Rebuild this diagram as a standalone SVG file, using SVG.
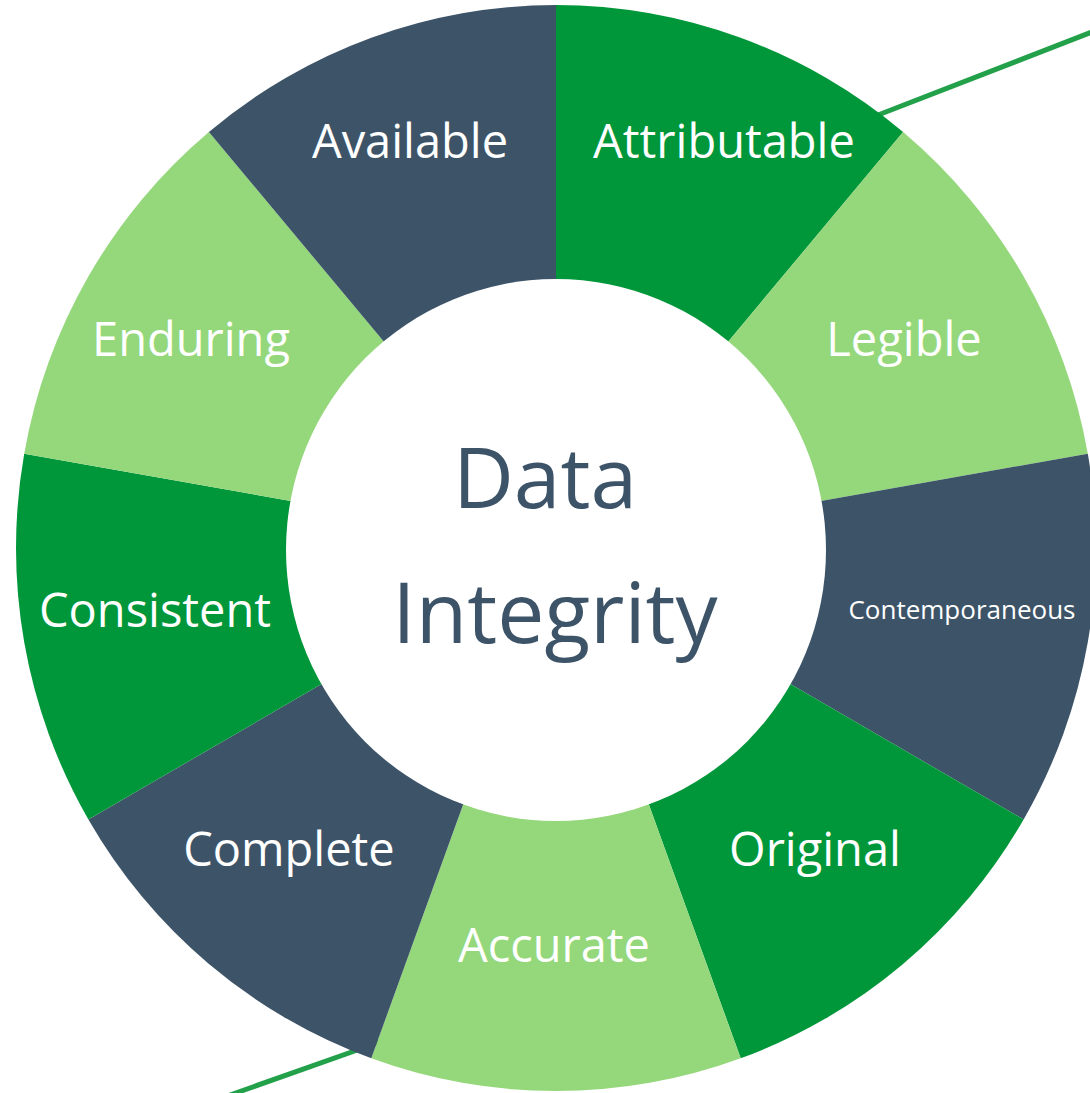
<svg xmlns="http://www.w3.org/2000/svg" width="1090" height="1093" viewBox="0 0 1090 1093">
  <style>
    .lbl { font-family: "Open Sans", "Noto Sans", "DejaVu Sans", sans-serif; font-size: 47px; fill: #ffffff; text-anchor: middle; }
    .small { font-size: 26px; }
    .center { font-family: "Open Sans", "Noto Sans", "DejaVu Sans", sans-serif; font-size: 84px; fill: #3d5468; text-anchor: middle; }
    .dark { fill: #3d5468; }
    .green { fill: #00973a; }
    .light { fill: #95d87c; }
    .line { stroke: #23a04a; stroke-width: 5; fill: none; stroke-linecap: round; }
  </style>
  <rect width="1090" height="1093" fill="#ffffff"/>
  <g id="connectors">
    <path class="line" d="M 230 1095 Q 300 1070 380 1042"/>
    <path class="line" d="M 860 122 Q 980 75 1092 32"/>
  </g>
  <g id="seg-attributable">
    <path class="green" d="M 556 548 L 556 5 A 540 543 0 0 1 903.1 132 Z"/>
    <text class="lbl" x="724" y="158">Attributable</text>
  </g>
  <g id="seg-legible">
    <path class="light" d="M 556 548 L 903.1 132 A 540 543 0 0 1 1087.8 453.7 Z"/>
    <text class="lbl" x="904" y="356">Legible</text>
  </g>
  <g id="seg-contemporaneous">
    <path class="dark" d="M 556 548 L 1087.8 453.7 A 540 543 0 0 1 1023.6 819.5 Z"/>
    <text class="lbl small" x="962" y="619">Contemporaneous</text>
  </g>
  <g id="seg-original">
    <path class="green" d="M 556 548 L 1023.6 819.5 A 540 543 0 0 1 740.7 1058.3 Z"/>
    <text class="lbl" x="815" y="866">Original</text>
  </g>
  <g id="seg-accurate">
    <path class="light" d="M 556 548 L 740.7 1058.3 A 540 543 0 0 1 371.3 1058.3 Z"/>
    <text class="lbl" x="554" y="962">Accurate</text>
  </g>
  <g id="seg-complete">
    <path class="dark" d="M 556 548 L 371.3 1058.3 A 540 543 0 0 1 88.4 819.5 Z"/>
    <text class="lbl" x="289" y="866">Complete</text>
  </g>
  <g id="seg-consistent">
    <path class="green" d="M 556 548 L 88.4 819.5 A 540 543 0 0 1 24.2 453.7 Z"/>
    <text class="lbl" x="155" y="627">Consistent</text>
  </g>
  <g id="seg-enduring">
    <path class="light" d="M 556 548 L 24.2 453.7 A 540 543 0 0 1 208.9 132 Z"/>
    <text class="lbl" x="191" y="356">Enduring</text>
  </g>
  <g id="seg-available">
    <path class="dark" d="M 556 548 L 208.9 132 A 540 543 0 0 1 556 5 Z"/>
    <text class="lbl" x="410" y="158">Available</text>
  </g>
  <g id="center">
    <ellipse cx="556" cy="550" rx="270" ry="271" fill="#ffffff"/>
    <text class="center" x="545" y="508">Data</text>
    <text class="center" x="555" y="643">Integrity</text>
  </g>
</svg>
